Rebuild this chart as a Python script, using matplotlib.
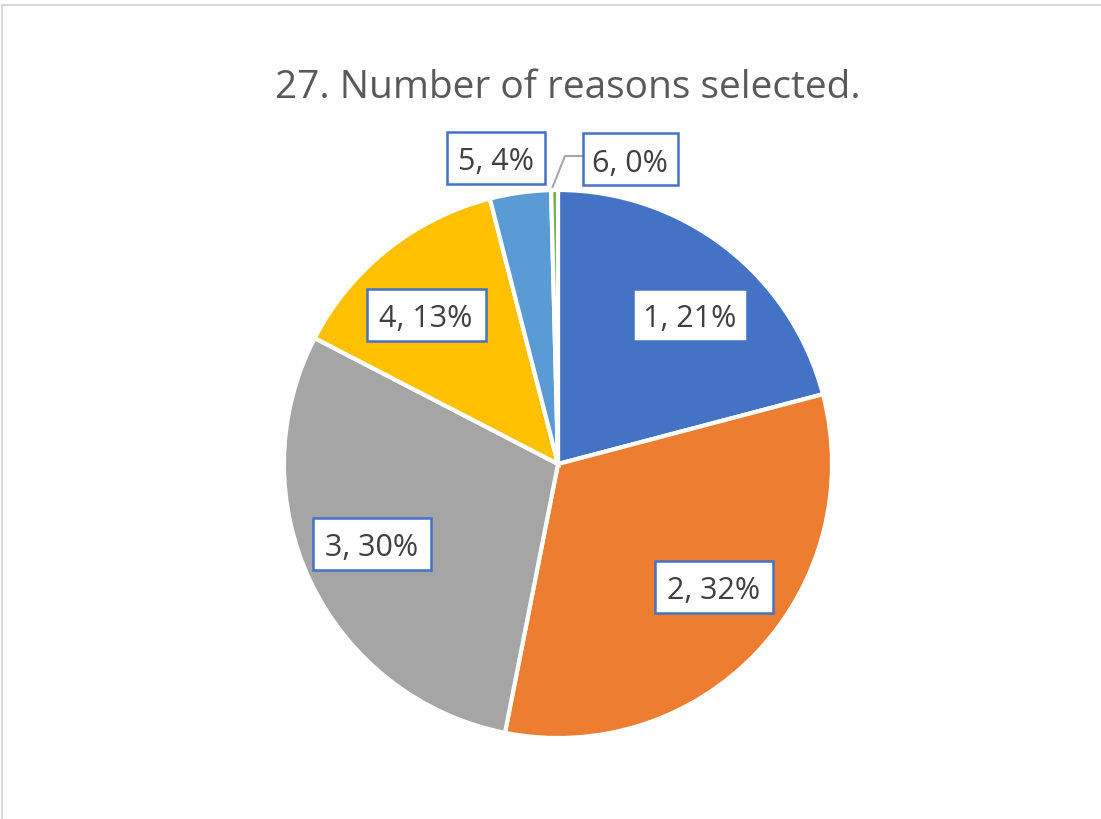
import numpy as np
import matplotlib
matplotlib.use("Agg")
import matplotlib.pyplot as plt
from matplotlib.patches import Rectangle

categories = ["1", "2", "3", "4", "5", "6"]
values = [20.9, 32.2, 29.5, 13.4, 3.6, 0.4]
pct_labels = ["21%", "32%", "30%", "13%", "4%", "0%"]
colors = ["#4472C4", "#ED7D31", "#A5A5A5", "#FFC000", "#5B9BD5", "#70AD47"]
title = "27. Number of reasons selected."

W, H = 1101, 820
fig = plt.figure(figsize=(W / 100, H / 100), dpi=100)
ax = fig.add_axes([0, 0, 1, 1])

cx, cy, r = 558, H - 465, 274
wedges, _ = ax.pie(values, colors=colors, startangle=90, counterclock=False,
                   center=(cx, cy), radius=r, frame=True,
                   wedgeprops=dict(edgecolor="white", linewidth=3.0))
ax.set_xlim(0, W)
ax.set_ylim(0, H)
ax.set_aspect("equal")
ax.axis("off")

# chart border (only top/left visible)
ax.add_patch(Rectangle((2, -20), W + 40, H - 6 + 20, fill=False,
                       edgecolor="#D9D9D9", linewidth=1.5))

# label box centres (layout, pixel coords from top)
box_centres = [(690, 316), (714, 588), (372, 545), (426, 316), (496, 159), (630, 160)]
box_widths = [114, 118, 118, 119, 98, 95]
box_h = 52

for i, (cat, p) in enumerate(zip(categories, pct_labels)):
    bx, by = box_centres[i]
    by = H - by
    bw = box_widths[i]
    ax.add_patch(Rectangle((bx - bw / 2, by - box_h / 2), bw, box_h,
                           facecolor="white", edgecolor="#4472C4", linewidth=1.8, zorder=5))
    ax.text(bx, by - 11.5, f"{cat}, {p}", fontsize=22, color="#404040",
            family=["Open Sans", "DejaVu Sans"], ha="center", va="baseline", zorder=6)

# leader line for slice 6
w6 = wedges[5]
mid6 = np.deg2rad((w6.theta1 + w6.theta2) / 2)
ex, ey = cx + r * np.cos(mid6), cy + r * np.sin(mid6)
ax.plot([ex - 2, 565, 582], [ey + 3, H - 157, H - 157], color="#A6A6A6",
        linewidth=1.5, zorder=4)

ax.text(568, H - 98, title, fontsize=28, color="#595959",
        family=["Open Sans", "DejaVu Sans"], ha="center", va="baseline")

fig.savefig("out.png", dpi=100)
